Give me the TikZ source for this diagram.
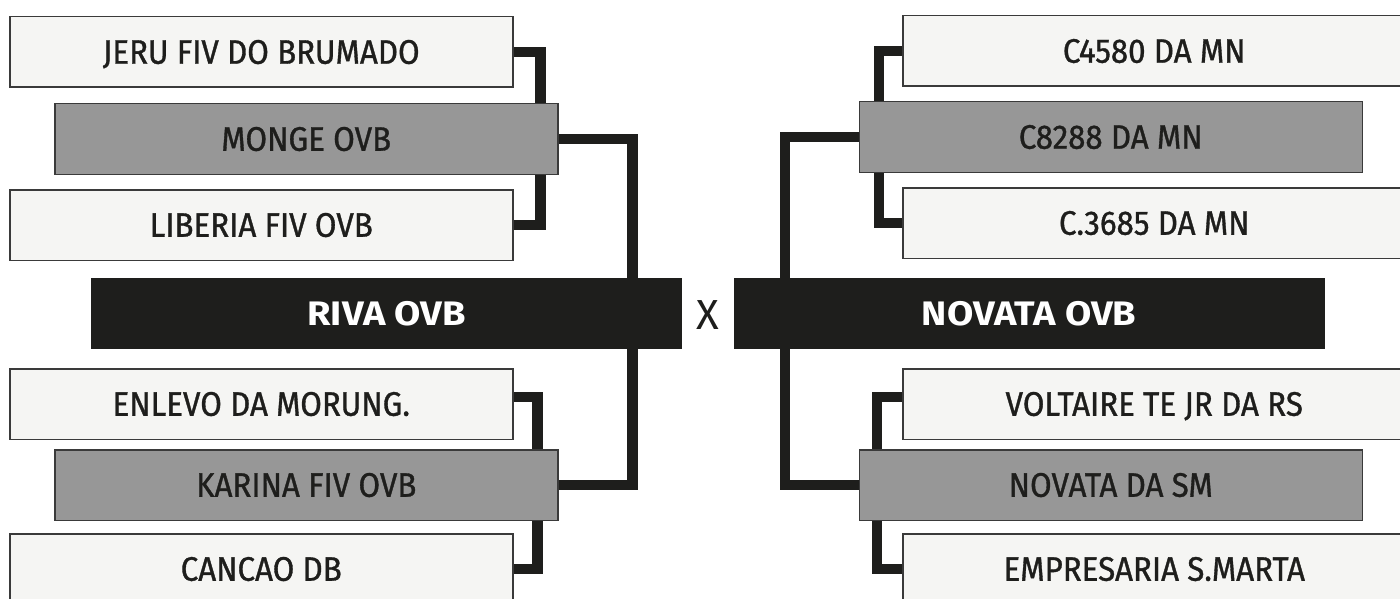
\documentclass[tikz,border=0pt]{standalone}
\usepackage{fontspec}
\setmainfont{Fira Sans}
\newfontfamily\boxfont{Fira Sans}[FakeStretch=0.92,FakeBold=1]
\newfontfamily\headfont{Fira Sans}[FakeStretch=1.12]
\usetikzlibrary{backgrounds}
\definecolor{light}{HTML}{F5F5F3}
\definecolor{mid}{HTML}{979797}
\definecolor{ink}{HTML}{1E1E1C}
\definecolor{edge}{HTML}{3A3A3A}
\begin{document}
\begin{tikzpicture}[x=1pt,y=-1pt,
  box/.style={draw=edge,line width=1.5pt,minimum width=503pt,minimum height=70.5pt,inner sep=0pt,
    font=\boxfont\fontsize{34}{38}\selectfont,text=ink,text height=23.5pt,text depth=0pt,anchor=north west},
  lightbox/.style={box,fill=light},
  midbox/.style={box,fill=mid},
  mainbox/.style={fill=ink,draw=none,minimum width=591pt,minimum height=71pt,inner sep=0pt,text=white,
    font=\headfont\bfseries\fontsize{34}{38}\selectfont,text height=23.5pt,text depth=0pt,anchor=north west},
  conn/.style={draw=ink,line width=10.5pt,line join=miter}]
\useasboundingbox (0,0) rectangle (1400,599);
% left bracket
\node[lightbox] (jeru) at (9,16) {JERU FIV DO BRUMADO};
\node[midbox] (monge) at (54,103) {MONGE OVB};
\node[lightbox] (liberia) at (9,189) {LIBERIA FIV OVB};
\node[mainbox] (riva) at (91,278) {RIVA OVB};
\node[lightbox] (enlevo) at (9,368) {ENLEVO DA MORUNG.};
\node[midbox] (karina) at (54,449) {KARINA FIV OVB};
\node[lightbox] (cancao) at (9,533) {CANCAO DB};
% right bracket
\node[lightbox] (c4580) at (902,15) {C4580 DA MN};
\node[midbox] (c8288) at (858.5,101) {C8288 DA MN};
\node[lightbox] (c3685) at (902,187) {C.3685 DA MN};
\node[mainbox] (novata) at (733.5,278) {NOVATA OVB};
\node[lightbox] (voltaire) at (902,368) {VOLTAIRE TE JR DA RS};
\node[midbox] (novsm) at (858.5,449) {NOVATA DA SM};
\node[lightbox] (empresaria) at (902,533) {EMPRESARIA S.MARTA};
% versus
\node[font=\fontsize{42}{46}\selectfont,text=ink,inner sep=0pt,text height=29pt,text depth=0pt] (vs) at (707.5,314.5) {X};
\begin{scope}[on background layer]
\draw[conn] (jeru.east) -| ([xshift=-18pt]monge.north east);
\draw[conn] (liberia.east) -| ([xshift=-18pt]monge.south east);
\draw[conn] (monge.east) -| ([xshift=-50pt]riva.north east);
\draw[conn] ([yshift=7pt]enlevo.east) -| ([xshift=-21pt]karina.north east);
\draw[conn] (cancao.east) -| ([xshift=-21pt]karina.south east);
\draw[conn] (karina.east) -| ([xshift=-50pt]riva.south east);
\draw[conn] (c4580.west) -| ([xshift=20.5pt]c8288.north west);
\draw[conn] (c3685.west) -| ([xshift=20.5pt]c8288.south west);
\draw[conn] (c8288.west) -| ([xshift=51.5pt]novata.north west);
\draw[conn] ([yshift=7pt]voltaire.west) -| ([xshift=18.5pt]novsm.north west);
\draw[conn] (empresaria.west) -| ([xshift=18.5pt]novsm.south west);
\draw[conn] (novsm.west) -| ([xshift=51.5pt]novata.south west);
\end{scope}
\end{tikzpicture}
\end{document}
